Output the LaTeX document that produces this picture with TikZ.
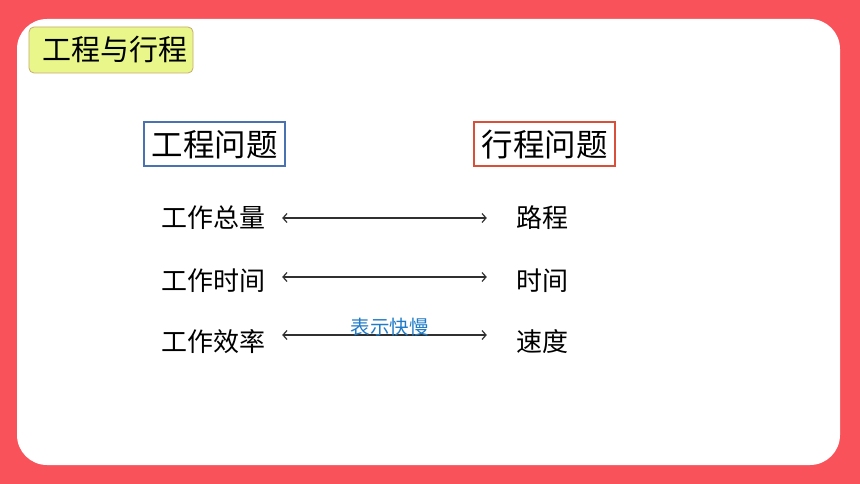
\documentclass[tikz,border=0pt]{standalone}
\usepackage{fontspec}
\setmainfont{Noto Sans CJK SC}
\usetikzlibrary{positioning,arrows.meta}
\definecolor{pagered}{HTML}{F9525A}
\definecolor{tagfill}{HTML}{E8F68A}
\definecolor{tagline}{HTML}{C8AC6E}
\definecolor{workblue}{HTML}{4A72B0}
\definecolor{travelred}{HTML}{D9503A}
\definecolor{notecol}{HTML}{1F7BC8}
\definecolor{arrowcol}{HTML}{303030}
\tikzset{
  head/.style={draw, line width=2pt, inner sep=0pt, minimum width=141pt, minimum height=44pt,
    font=\fontsize{31.5}{33}\selectfont},
  item/.style={inner sep=0pt, font=\fontsize{26}{28}\selectfont},
  pair/.style={{Straight Barb[length=4pt,width=9pt]}-{Straight Barb[length=4pt,width=9pt]},
    arrowcol, line width=1.2pt}
}
\begin{document}
\begin{tikzpicture}[x=1pt,y=1pt]
            \useasboundingbox (0,0) rectangle (860,-484);
            \fill[pagered] (0,0) rectangle (860,-484);
            \fill[white, rounded corners=30pt] (17,-19) rectangle (840,-465);

            \node[draw=tagline, fill=tagfill, line width=0.8pt, rounded corners=5pt,
                  minimum width=164pt, minimum height=46pt] (tag) at (111,-50) {};
            \node[font=\fontsize{29}{31}\selectfont] (tagtext) at (115,-50) {工程与行程};

            \node[head, draw=workblue] (work) at (214.5,-144.5) {工程问题};
            \node[head, draw=travelred] (travel) at (544.5,-144.5) {行程问题};

            \node[item] (w1) at (213,-218) {工作总量};
            \node[item] (w2) at (213,-281) {工作时间};
            \node[item] (w3) at (213,-342) {工作效率};
            \node[item] (t1) at (542,-218) {路程};
            \node[item] (t2) at (542,-281) {时间};
            \node[item] (t3) at (542,-342) {速度};

            \draw[pair] ([xshift=17pt]w1.east) -- ([xshift=-29pt]t1.west);
            \draw[pair] ([xshift=17pt,yshift=4pt]w2.east) -- ([xshift=-29pt,yshift=4pt]t2.west);
            \draw[pair] ([xshift=17pt,yshift=7pt]w3.east) -- node[above=-5pt, xshift=5pt, notecol,
                  font=\fontsize{19.5}{21}\selectfont] (note) {表示快慢} ([xshift=-29pt,yshift=7pt]t3.west);
\end{tikzpicture}
\end{document}
